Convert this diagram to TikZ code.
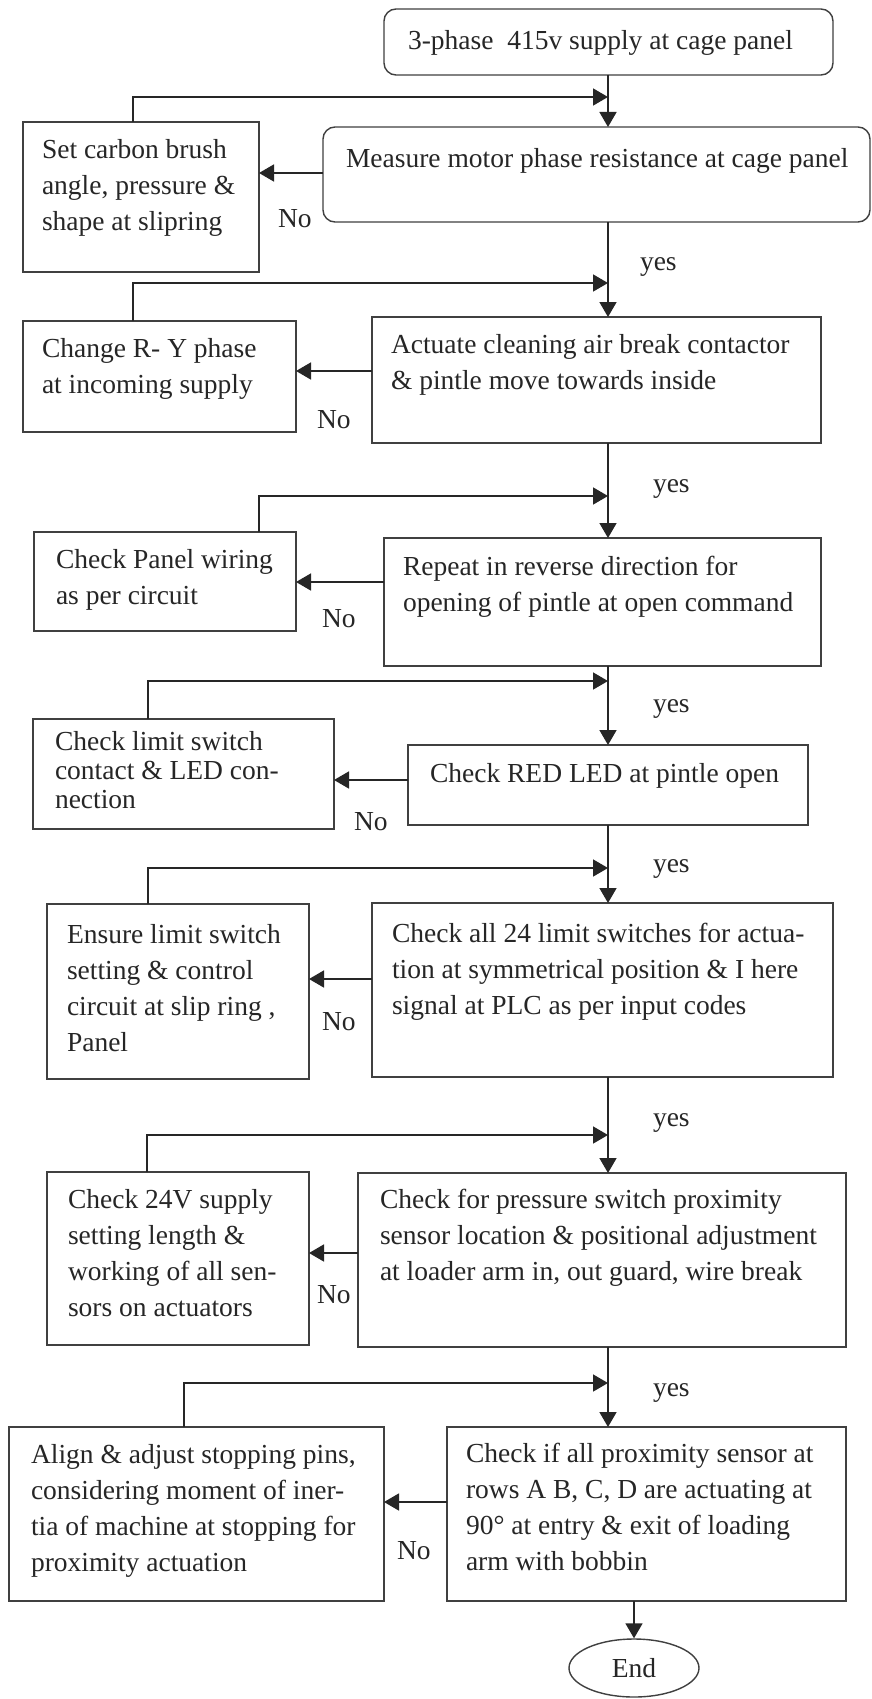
\documentclass[tikz,border=0pt]{standalone}
\usepackage{fontspec}
\setmainfont{Liberation Serif}
\usetikzlibrary{arrows.meta,shapes.geometric}
\newcommand\fsz{\fontsize{27.5}{36}\selectfont}
\newcommand\fszb{\fontsize{27.5}{29}\selectfont}
\newcommand\mkbox[6]{\node[#6, minimum width={#4-#2}, minimum height={#5-#3}, anchor=north west] (#1) at (#2,#3) {};}
\begin{document}
\begin{tikzpicture}[x=1pt,y=-1pt,
  bx/.style={draw=black!75, line width=1.4pt, inner sep=0pt, outer sep=0pt},
  rbx/.style={bx, rounded corners=12pt},
  txt/.style={inner sep=0pt, outer sep=0pt, anchor=north west, align=left, font=\fsz, text=black!85},
  lbl/.style={inner sep=0pt, outer sep=0pt, anchor=base west, font=\fsz, text=black!85},
  conn/.style={draw=black!85, line width=1.6pt},
  arr/.style={conn, -{Triangle[length=15pt,width=17pt]}},
]
\useasboundingbox (0,0) rectangle (872,1699);
\fill[white] (0,0) rectangle (872,1699);

% boxes
\mkbox{top}{384}{9}{833}{75}{rbx}
\mkbox{measure}{323}{127}{870}{222}{rbx}
\mkbox{carbon}{23}{122}{259}{272}{bx}
\mkbox{actuate}{372}{317}{821}{443}{bx}
\mkbox{changery}{23}{321}{296}{432}{bx}
\mkbox{repeatbox}{384}{538}{821}{666}{bx}
\mkbox{wiring}{34}{532}{296}{631}{bx}
\mkbox{red}{408}{745}{808}{825}{bx}
\mkbox{limit}{33}{719}{334}{829}{bx}
\mkbox{allbox}{372}{903}{833}{1077}{bx}
\mkbox{ensure}{47}{904}{309}{1079}{bx}
\mkbox{press}{358}{1173}{846}{1347}{bx}
\mkbox{supbox}{47}{1172}{309}{1345}{bx}
\mkbox{prox}{447}{1427}{846}{1601}{bx}
\mkbox{alignbox}{9}{1427}{384}{1601}{bx}
\node[ellipse, draw=black!75, line width=1.4pt, minimum width=130pt, minimum height=58pt, inner sep=0pt, font=\fsz, text=black!85] (end) at (634,1668) {End};

% texts
\node[txt] (ttop) at (408,24.8) {\strut 3-phase\ \ 415v supply at cage panel};
\node[txt] (tmeasure) at (346,142.8) {\strut Measure motor phase resistance at cage panel};
\node[txt] (tcarbon) at (42,132.8) {\strut Set carbon brush\\angle, pressure \&\\shape at slipring};
\node[txt] (tchangery) at (42,331.8) {\strut Change R- Y phase\\at incoming supply};
\node[txt] (tactuate) at (391,327.8) {\strut Actuate cleaning air break contactor\\\& pintle move towards inside};
\node[txt] (twiring) at (56,542.8) {\strut Check Panel wiring\\as per circuit};
\node[txt] (trepeat) at (403,549.8) {\strut Repeat in reverse direction for\\opening of pintle at open command};
\node[txt, font=\fszb] (tlimit) at (55,729.7) {\strut Check limit switch\\contact \& LED con-\\nection};
\node[txt] (tred) at (430,756.8) {\strut Check RED LED at pintle open};
\node[txt] (tensure) at (67,917.8) {\strut Ensure limit switch\\setting \& control\\circuit at slip ring ,\\Panel};
\node[txt] (tall) at (392,916.8) {\strut Check all 24 limit switches for actua-\\tion at symmetrical position \& I here\\signal at PLC as per input codes};
\node[txt] (tsup) at (68,1182.8) {\strut Check 24V supply\\setting length \&\\working of all sen-\\sors on actuators};
\node[txt] (tpress) at (380,1182.8) {\strut Check for pressure switch proximity\\sensor location \& positional adjustment\\at loader arm in, out guard, wire break};
\node[txt] (talign) at (31,1437.8) {\strut Align \& adjust stopping pins,\\considering moment of iner-\\tia of machine at stopping for\\proximity actuation};
\node[txt] (tprox) at (466,1436.8) {\strut Check if all proximity sensor at\\rows A B, C, D are actuating at\\90° at entry \& exit of loading\\arm with bobbin};

% labels
\node[lbl] (no1) at (278,227) {No};
\node[lbl] (no2) at (317,428) {No};
\node[lbl] (no3) at (322,627) {No};
\node[lbl] (no4) at (354,830) {No};
\node[lbl] (no5) at (322,1030) {No};
\node[lbl] (no6) at (317,1303) {No};
\node[lbl] (no7) at (397,1559) {No};
\node[lbl] (yes1) at (640,270) {yes};
\node[lbl] (yes2) at (653,492) {yes};
\node[lbl] (yes3) at (653,712) {yes};
\node[lbl] (yes4) at (653,872) {yes};
\node[lbl] (yes5) at (653,1126) {yes};
\node[lbl] (yes6) at (653,1396) {yes};

% coordinates
\coordinate (mx) at (608,0);
\coordinate (j1) at (608,97);
\coordinate (j2) at (608,283);
\coordinate (j3) at (608,496);
\coordinate (j4) at (608,681);
\coordinate (j5) at (608,868);
\coordinate (j6) at (608,1135);
\coordinate (j7) at (608,1383);
\coordinate (n1) at (0,173);
\coordinate (n2) at (0,371);
\coordinate (n3) at (0,582);
\coordinate (n4) at (0,780);
\coordinate (n5) at (0,979);
\coordinate (n6) at (0,1253);
\coordinate (n7) at (0,1502);

% main flow
\draw[arr] (top.south -| mx) -- (measure.north -| mx);
\draw[arr] (measure.south -| mx) -- (actuate.north -| mx);
\draw[arr] (actuate.south -| mx) -- (repeatbox.north -| mx);
\draw[arr] (repeatbox.south -| mx) -- (red.north -| mx);
\draw[arr] (red.south -| mx) -- (allbox.north -| mx);
\draw[arr] (allbox.south -| mx) -- (press.north -| mx);
\draw[arr] (press.south -| mx) -- (prox.north -| mx);
\draw[arr] (prox.south -| end.north) -- (end.north);

% feedback loops
\draw[arr] ([xshift=110pt]carbon.north west) |- (j1);
\draw[arr] ([xshift=110pt]changery.north west) |- (j2);
\draw[arr] ([xshift=225pt]wiring.north west) |- (j3);
\draw[arr] ([xshift=115pt]limit.north west) |- (j4);
\draw[arr] ([xshift=101pt]ensure.north west) |- (j5);
\draw[arr] ([xshift=100pt]supbox.north west) |- (j6);
\draw[arr] ([xshift=175pt]alignbox.north west) |- (j7);

% No arrows
\draw[arr] (measure.west |- n1) -- (carbon.east |- n1);
\draw[arr] (actuate.west |- n2) -- (changery.east |- n2);
\draw[arr] (repeatbox.west |- n3) -- (wiring.east |- n3);
\draw[arr] (red.west |- n4) -- (limit.east |- n4);
\draw[arr] (allbox.west |- n5) -- (ensure.east |- n5);
\draw[arr] (press.west |- n6) -- (supbox.east |- n6);
\draw[arr] (prox.west |- n7) -- (alignbox.east |- n7);
\end{tikzpicture}
\end{document}
